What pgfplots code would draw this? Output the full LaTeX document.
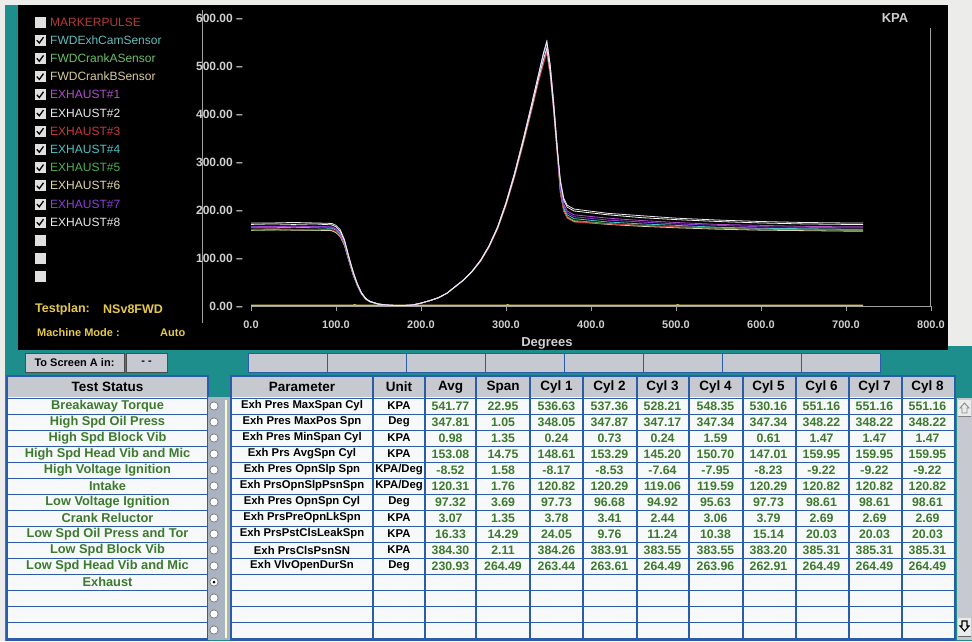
\documentclass[border=0pt]{standalone}
\usepackage{pgfplots}
\pgfplotsset{compat=1.18}
\usepackage{pgfplotstable}
\usepackage{fontspec}
\setmainfont{Liberation Sans}
\definecolor{bg}{HTML}{ECECEA}
\definecolor{uiteal}{HTML}{1E8E8C}
\definecolor{hdr}{HTML}{C6CAD0}
\definecolor{cellbg}{HTML}{F6F8FA}
\definecolor{gridblue}{HTML}{2A5CA8}
\definecolor{txtgreen}{HTML}{3C7A2E}
\definecolor{ylw}{HTML}{E6C84C}
\definecolor{ticklab}{HTML}{CFCFCF}
\definecolor{axgray}{HTML}{A0A0A0}
\definecolor{radcol}{HTML}{A9B3C2}
\definecolor{lgred}{HTML}{B53A3A}
\definecolor{lgcyan}{HTML}{62BDBD}
\definecolor{lggreen}{HTML}{6CC06C}
\definecolor{lgbeige}{HTML}{D8CB99}
\definecolor{exa}{HTML}{B44CD0}
\definecolor{exb}{HTML}{EAEAEA}
\definecolor{exc}{HTML}{C83A3A}
\definecolor{exd}{HTML}{4CC4C4}
\definecolor{exe}{HTML}{4CB04C}
\definecolor{exf}{HTML}{E2D6A6}
\definecolor{exg}{HTML}{8E3CE0}
\definecolor{exh}{HTML}{F4F4F4}
\definecolor{sensy}{HTML}{D8C050}

\tikzset{
  pfont/.style={font=\bfseries\fontsize{11.3}{12}\selectfont, text=black, inner sep=0pt},
  nfont/.style={font=\bfseries\fontsize{12.3}{12}\selectfont, text=txtgreen, inner sep=0pt},
  tsfont/.style={font=\bfseries\fontsize{12.8}{13}\selectfont, text=txtgreen, inner sep=0pt},
  hfont/.style={font=\bfseries\fontsize{13.5}{14}\selectfont, text=black, inner sep=0pt},
}
\newcommand\prow[5]{%
  \node[pfont] at (302,{406+16*(#1-1)}) {#2};
  \node[pfont] at (399,{406+16*(#1-1)}) {#3};
  \node[nfont] at (450.5,{406+16*(#1-1)}) {#4};
  \node[nfont] at (503,{406+16*(#1-1)}) {#5};}
\newcommand\crow[2]{%
  \foreach \v [count=\c] in {#2} {\node[nfont] at ({556.5+53*(\c-1)},{406+16*(#1-1)}) {\v};}}

\pgfplotstableread{
x c1 c2 c3 c4 c5 c6 c7 c8
0 165 173 160 163 158 158 166 170
25 166 173 161 163 158 159 166 171
50 165 174 160 164 159 158 167 170
75 166 173 160 163 158 158 166 171
95 164 172 159 162 157 157 165 169
100 160 168 155 158 153 153 161 165
105 152 159 147 150 145 145 153 156
110 132 138 128 130 126 126 133 136
115 99 104 96 98 95 95 100 102
120 69 73 67 68 66 66 70 71
125 45 47 43 44 43 43 45 46
130 26 28 26 26 25 25 27 27
135 15 16 14 15 14 14 15 15
140 9 10 9 9 9 9 9 9
150 4 4 4 4 4 4 4 4
160 2 2 2 2 2 2 2 2
170 1 1 1 1 1 1 1 1
180 1 1 1 1 1 1 1 1
190 2 2 2 2 2 2 2 2
200 6 6 6 6 6 6 6 6
210 11 11 11 11 11 11 11 11
220 17 17 17 17 17 17 17 17
230 26 26 26 26 26 26 26 26
240 40 40 40 40 40 40 40 40
250 54 54 54 54 54 54 54 54
260 72 72 71 72 71 72 72 72
270 94 94 93 95 93 95 95 95
280 124 124 122 125 123 125 125 125
290 162 162 160 164 161 164 164 164
300 212 212 209 214 210 215 215 215
310 272 272 268 275 269 276 276 276
320 340 340 335 344 336 345 345 345
330 412 412 406 417 407 419 419 419
338 472 472 465 478 467 480 480 480
344 513 513 504 523 506 526 526 526
348 537 537 528 548 530 551 551 551
352 489 489 480 499 482 501 501 501
356 413 413 407 422 408 424 424 424
360 328 328 322 334 323 336 336 336
364 250 262 235 242 238 236 246 258
368 212 224 197 204 200 198 208 220
372 198 210 183 190 186 184 194 206
380 190 202 175 182 178 176 186 198
420 183 193 171 175 172 170 179 190
460 178 188 168 171 168 166 175 184
500 174 183 165 168 165 163 171 180
550 170 179 163 164 162 160 168 176
600 168 176 162 162 160 158 165 173
650 166 174 160 161 159 157 164 171
700 165 173 160 160 158 156 163 170
720 165 173 160 160 158 156 163 170
}\exhdata

\begin{document}
\begin{tikzpicture}
\begin{scope}[x=1pt,y=-1pt]
  % backgrounds
  \fill[bg] (0,0) rectangle (972,641);
  \fill[uiteal] (5,5) rectangle (972,641);
  \fill[bg] (948,0) rectangle (972,346);
  \fill[black] (18,5) rectangle (948,350);
  % axis frame lines
  \draw[axgray, line width=0.8pt] (202,10) -- (202,323);
  \draw[axgray, line width=0.8pt] (930,28) -- (930,306);
  \node[font=\bfseries\fontsize{13}{13}\selectfont, text=ticklab] at (895,18) {KPA};
  \node[font=\bfseries\fontsize{13}{13}\selectfont, text=ticklab] at (547,343) {Degrees};
  % legend
  \foreach \i in {1,...,15} {\fill[white!88!black] (34.5,{22+18.2*(\i-1)-5.5}) rectangle (45.5,{22+18.2*(\i-1)+5.5});}
  \foreach \i in {2,...,12} {\draw[black, line width=1.3pt] (36.8,{22+18.2*(\i-1)}) -- (39.3,{22+18.2*(\i-1)+2.8}) -- (43.5,{22+18.2*(\i-1)-3});}
  \foreach \t/\c [count=\i] in {MARKERPULSE/lgred, FWDExhCamSensor/lgcyan, FWDCrankASensor/lggreen, FWDCrankBSensor/lgbeige, EXHAUST\#1/exa, EXHAUST\#2/exb, EXHAUST\#3/exc, EXHAUST\#4/exd, EXHAUST\#5/exe, EXHAUST\#6/exf, EXHAUST\#7/exg, EXHAUST\#8/exb}
    {\node[anchor=west, inner sep=0pt, text=\c, font=\fontsize{12}{12}\selectfont] at (50,{22+18.2*(\i-1)}) {\t};}
  \node[anchor=west, inner sep=0pt, text=ylw, font=\bfseries\fontsize{12.5}{13}\selectfont] at (35,309) {Testplan:};
  \node[anchor=west, inner sep=0pt, text=ylw, font=\bfseries\fontsize{12.5}{13}\selectfont] at (103,309) {NSv8FWD};
  \node[anchor=west, inner sep=0pt, text=ylw, font=\bfseries\fontsize{11}{12}\selectfont] at (37,333) {Machine Mode :};
  \node[anchor=west, inner sep=0pt, text=ylw, font=\bfseries\fontsize{11}{12}\selectfont] at (160,333) {Auto};
  % button row
  \fill[hdr] (25,353) rectangle (124,372); \draw[black!70, line width=0.8pt] (25,353) rectangle (124,372);
  \fill[hdr] (126,353) rectangle (167,372); \draw[black!70, line width=0.8pt] (126,353) rectangle (167,372);
  \node[font=\bfseries\fontsize{11}{12}\selectfont] at (74.5,362.5) {To Screen A in:};
  \node[font=\bfseries\fontsize{11}{12}\selectfont] at (146.5,362.5) {- -};
  \foreach \k in {0,...,7} {\fill[hdr] ({248+79*\k},353) rectangle ({248+79*(\k+1)},372);
    \draw[gridblue, line width=0.8pt] ({248+79*\k},353) rectangle ({248+79*(\k+1)},372);}
  % test status table
  \fill[hdr] (7,376) rectangle (208,397);
  \fill[cellbg] (7,397) rectangle (208,640);
  \foreach \k in {0,...,15} {\draw[gridblue, line width=0.8pt] (7,{398+16*\k}) -- (208,{398+16*\k});}
  \draw[gridblue, line width=1.5pt] (7,376) rectangle (208,640);
  \node[hfont] at (107.5,387) {Test Status};
  \foreach \t [count=\i] in {Breakaway Torque, High Spd Oil Press, High Spd Block Vib, High Spd Head Vib and Mic, High Voltage Ignition, Intake, Low Voltage Ignition, Crank Reluctor, Low Spd Oil Press and Tor, Low Spd Block Vib, Low Spd Head Vib and Mic, Exhaust}
    {\node[tsfont] at (107.5,{406+16*(\i-1)}) {\t};}
  % radio column
  \fill[radcol] (208,397) rectangle (231,640);
  \draw[white!80!yellow, line width=1.5pt] (226,400) -- (226,638);
  \foreach \i in {1,...,15} {\filldraw[fill=white, draw=black!55, line width=0.7pt] (214,{406+16*(\i-1)}) circle (4.2);}
  \fill[black] (214,582) circle (1.5);
  % parameter table
  \fill[hdr] (231,376) rectangle (955,397);
  \fill[cellbg] (231,397) rectangle (955,640);
  \foreach \k in {0,...,15} {\draw[gridblue, line width=0.8pt] (231,{398+16*\k}) -- (955,{398+16*\k});}
  \foreach \xx in {373,425,476,530,583,637,689,743,796,849,902} {\draw[gridblue, line width=1.3pt] (\xx,376) -- (\xx,640);}
  \draw[gridblue, line width=1.5pt] (231,376) rectangle (955,640);
  \node[hfont] at (302,387) {Parameter};
  \node[hfont] at (399,387) {Unit};
  \node[hfont] at (450.5,387) {Avg};
  \node[hfont] at (503,387) {Span};
  \foreach \c in {1,...,8} {\node[hfont] at ({556.5+53*(\c-1)},387) {Cyl \c};}
  \prow{1}{Exh Pres MaxSpan Cyl}{KPA}{541.77}{22.95}
  \crow{1}{536.63,537.36,528.21,548.35,530.16,551.16,551.16,551.16}
  \prow{2}{Exh Pres MaxPos Spn}{Deg}{347.81}{1.05}
  \crow{2}{348.05,347.87,347.17,347.34,347.34,348.22,348.22,348.22}
  \prow{3}{Exh Pres MinSpan Cyl}{KPA}{0.98}{1.35}
  \crow{3}{0.24,0.73,0.24,1.59,0.61,1.47,1.47,1.47}
  \prow{4}{Exh Prs AvgSpn Cyl}{KPA}{153.08}{14.75}
  \crow{4}{148.61,153.29,145.20,150.70,147.01,159.95,159.95,159.95}
  \prow{5}{Exh Pres OpnSlp Spn}{KPA/Deg}{-8.52}{1.58}
  \crow{5}{-8.17,-8.53,-7.64,-7.95,-8.23,-9.22,-9.22,-9.22}
  \prow{6}{Exh PrsOpnSlpPsnSpn}{KPA/Deg}{120.31}{1.76}
  \crow{6}{120.82,120.29,119.06,119.59,120.29,120.82,120.82,120.82}
  \prow{7}{Exh Pres OpnSpn Cyl}{Deg}{97.32}{3.69}
  \crow{7}{97.73,96.68,94.92,95.63,97.73,98.61,98.61,98.61}
  \prow{8}{Exh PrsPreOpnLkSpn}{KPA}{3.07}{1.35}
  \crow{8}{3.78,3.41,2.44,3.06,3.79,2.69,2.69,2.69}
  \prow{9}{Exh PrsPstClsLeakSpn}{KPA}{16.33}{14.29}
  \crow{9}{24.05,9.76,11.24,10.38,15.14,20.03,20.03,20.03}
  \prow{10}{Exh PrsClsPsnSN}{KPA}{384.30}{2.11}
  \crow{10}{384.26,383.91,383.55,383.55,383.20,385.31,385.31,385.31}
  \prow{11}{Exh VlvOpenDurSn}{Deg}{230.93}{264.49}
  \crow{11}{263.44,263.61,264.49,263.96,262.91,264.49,264.49,264.49}
  % scrollbar
  \fill[hdr] (957,398) rectangle (972,640);
  \fill[white!92!black] (958,400) rectangle (971,416); \draw[black!50] (958,416) -- (971,416);
  \fill[white!92!black] (958,618) rectangle (971,636); \draw[black!60] (958,636) -- (971,636);
  \draw[black!45, line width=0.9pt] (962,413) -- (962,408) -- (960,408) -- (964.5,403) -- (969,408) -- (967,408) -- (967,413) -- cycle;
  \draw[black, line width=1.1pt] (962,621) -- (962,626) -- (960,626) -- (964.5,631) -- (969,626) -- (967,626) -- (967,621) -- cycle;
\end{scope}

\begin{axis}[
  at={(251pt,-306pt)}, anchor=south west,
  scale only axis, width=680pt, height=288pt,
  xmin=0, xmax=800, ymin=0, ymax=600,
  axis x line*=bottom, axis y line*=left,
  x axis line style={draw=axgray, line width=0.8pt},
  y axis line style={draw=none},
  xtick={0,100,...,800},
  xticklabels={0.0,100.0,200.0,300.0,400.0,500.0,600.0,700.0,800.0},
  ytick={0,100,...,600},
  yticklabels={0.00 --,100.00 --,200.00 --,300.00 --,400.00 --,500.00 --,600.00 --},
  tick align=outside, major tick length=5pt,
  xtick style={draw=axgray, line width=0.8pt},
  ytick style={draw=none},
  /pgf/number format/assume math mode=true,
  xticklabel style={font=\bfseries\fontsize{11}{11}\selectfont, text=ticklab, yshift=-6pt},
  yticklabel style={font=\bfseries\fontsize{12}{12}\selectfont, text=ticklab, inner sep=1pt, xshift=-2pt},
  clip=true,
]
\addplot[lggreen, line width=0.8pt] coordinates {(0,0.6) (720,0.6)};
\addplot[sensy, line width=1.2pt] coordinates {(0,1.5) (120,1.5) (122,3) (124,1.5) (300,1.5) (302,3) (304,1.5) (500,1.5) (502,3) (504,1.5) (720,1.5)};
\addplot[exe, line width=0.8pt] table[x=x,y=c5]{\exhdata};
\addplot[exf, line width=0.8pt] table[x=x,y=c6]{\exhdata};
\addplot[exc, line width=0.8pt] table[x=x,y=c3]{\exhdata};
\addplot[exd, line width=0.8pt] table[x=x,y=c4]{\exhdata};
\addplot[exa, line width=0.8pt] table[x=x,y=c1]{\exhdata};
\addplot[exg, line width=0.8pt] table[x=x,y=c7]{\exhdata};
\addplot[exh, line width=0.8pt] table[x=x,y=c8]{\exhdata};
\addplot[exb, line width=0.8pt] table[x=x,y=c2]{\exhdata};
\end{axis}
\pgfresetboundingbox
\useasboundingbox (0,0) rectangle (972pt,-641pt);
\end{tikzpicture}
\end{document}
